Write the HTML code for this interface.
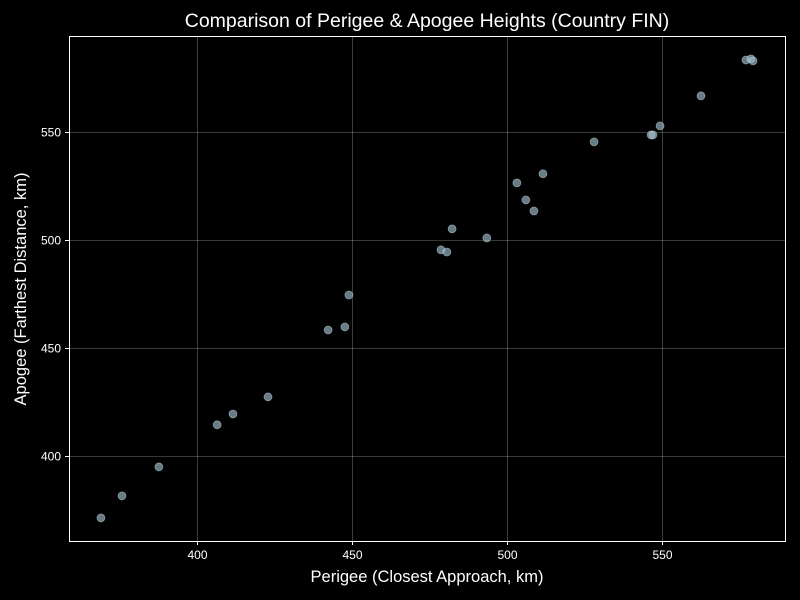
<!DOCTYPE html>
<html><head><meta charset="utf-8"><style>
body{margin:0;background:#000;}
svg{display:block;font-family:"Liberation Sans",sans-serif;}
</style></head><body>
<svg id="chart" width="800" height="600">
<rect width="800" height="600" fill="#000"/>
<text x="427" y="27" fill="#fff" font-size="19.5" text-anchor="middle">Comparison of Perigee &amp; Apogee Heights (Country FIN)</text>
<text x="427" y="582" fill="#fff" font-size="16.5" text-anchor="middle">Perigee (Closest Approach, km)</text>
<text transform="translate(26,289) rotate(-90)" fill="#fff" font-size="16.5" text-anchor="middle">Apogee (Farthest Distance, km)</text>
<g id="grid"></g><g id="ticks"></g><g id="points"></g>
<rect x="69.5" y="36.5" width="716" height="505" fill="none" stroke="#fff" stroke-width="1"/>
</svg>
<script>
const perigee=[369.0,375.8,387.7,406.5,411.6,422.9,442.3,447.7,449.0,478.7,480.6,482.3,493.5,503.2,506.1,508.7,511.6,528.1,546.5,547.1,549.4,562.6,577.1,578.7,579.4];
const apogee=[371.3,381.5,394.9,414.4,419.4,427.3,458.3,459.7,474.5,495.4,494.4,505.1,500.9,526.4,518.5,513.4,530.6,545.4,548.6,548.6,552.8,566.7,583.3,583.8,582.9];
const xTicks=[400,450,500,550];
const yTicks=[400,450,500,550];
const X0=69,X1=785,Y0=541,Y1=36,xMin=358.7,xMax=589.7,yMin=360.6,yMax=594.4;
const sx=v=>X0+(v-xMin)/(xMax-xMin)*(X1-X0);
const sy=v=>Y0-(v-yMin)/(yMax-yMin)*(Y0-Y1);
const NS="http://www.w3.org/2000/svg";
const grid=document.getElementById('grid'),ticks=document.getElementById('ticks'),pts=document.getElementById('points');
function mk(tag,attrs,parent){const e=document.createElementNS(NS,tag);for(const k in attrs)e.setAttribute(k,attrs[k]);parent.appendChild(e);return e;}
xTicks.forEach(t=>{const x=Math.round(sx(t))+0.5;
const g=mk('line',{x1:x,x2:x,y1:Y1,y2:Y0,stroke:'#fff','stroke-opacity':0.3,'stroke-width':0.8},grid);


const tk=mk('line',{x1:x,x2:x,y1:Y0,y2:Y0+4,stroke:'#fff'},ticks);


const l=mk('text',{x:x,y:Y0+18,fill:'#fff','font-size':12,'text-anchor':'middle'},ticks);l.textContent=t;

});
yTicks.forEach(t=>{const y=Math.round(sy(t))+0.5;
const g=mk('line',{x1:X0,x2:X1,y1:y,y2:y,stroke:'#fff','stroke-opacity':0.3,'stroke-width':0.8},grid);


const tk=mk('line',{x1:X0-4,x2:X0,y1:y,y2:y,stroke:'#fff'},ticks);


const l=mk('text',{x:X0-8,y:y+4,fill:'#fff','font-size':12,'text-anchor':'end'},ticks);l.textContent=t;

});
perigee.forEach((p,i)=>{const c=mk('circle',{cx:sx(p),cy:sy(apogee[i]),r:4,fill:'#9fbfcc','fill-opacity':0.65,stroke:'#c8dde6','stroke-opacity':0.5,'stroke-width':0.8},pts);

});
</script>
</body></html>
